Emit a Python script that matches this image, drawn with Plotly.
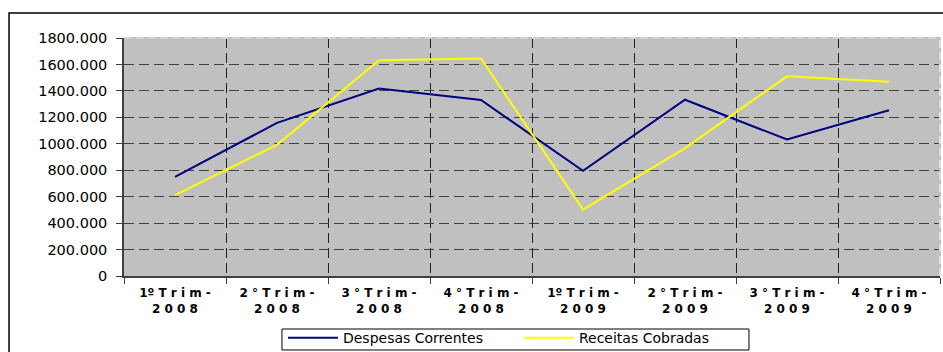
import plotly.graph_objects as go

# Quarterly categories
quarters = [
    "1º T r i m -<br>2 0 0 8",
    "2 ° T r i m -<br>2 0 0 8",
    "3 ° T r i m -<br>2 0 0 8",
    "4 ° T r i m -<br>2 0 0 8",
    "1º T r i m -<br>2 0 0 9",
    "2 ° T r i m -<br>2 0 0 9",
    "3 ° T r i m -<br>2 0 0 9",
    "4 ° T r i m -<br>2 0 0 9",
]

despesas_correntes = [750, 1158, 1418, 1331, 795, 1333, 1032, 1254]
receitas_cobradas = [612, 992, 1632, 1645, 502, 967, 1510, 1469]

y_tick_vals = [0, 200, 400, 600, 800, 1000, 1200, 1400, 1600, 1800]
y_tick_text = ["0", "200.000", "400.000", "600.000", "800.000", "1000.000",
               "1200.000", "1400.000", "1600.000", "1800.000"]

fig = go.Figure()
fig.add_trace(go.Scatter(
    x=quarters, y=despesas_correntes, mode="lines",
    name="Despesas Correntes", line=dict(color="#000080", width=2),
))
fig.add_trace(go.Scatter(
    x=quarters, y=receitas_cobradas, mode="lines",
    name="Receitas Cobradas", line=dict(color="#FFFF00", width=2),
))

grid_dash = "10px,5px"

fig.update_layout(
    width=943, height=352,
    margin=dict(l=124, r=3, t=38, b=76, autoexpand=False),
    paper_bgcolor="white",
    plot_bgcolor="#C0C0C0",
    font=dict(family="DejaVu Sans", color="black"),
    showlegend=True,
    legend=dict(
        orientation="h",
        x=0.484, xanchor="center",
        y=-0.194, yanchor="top",
        borderwidth=0, bgcolor="rgba(0,0,0,0)",
        font=dict(family="DejaVu Sans", size=14, color="black"),
        itemwidth=50,
        entrywidth=171,
        tracegroupgap=0,
    ),
    xaxis=dict(
        type="category",
        range=[-0.5, len(quarters) - 0.5],
        automargin=False,
        tickson="boundaries",
        ticks="outside", ticklen=6, tickcolor="#404040",
        ticklabelstandoff=5,
        showline=True, linecolor="#404040", linewidth=1.5,
        showgrid=True, gridcolor="#202020", gridwidth=1, griddash=grid_dash,
        tickfont=dict(family="DejaVu Sans", size=12, color="black", weight="bold"),
        fixedrange=True,
    ),
    yaxis=dict(
        automargin=False,
        range=[0, 1800],
        tickmode="array", tickvals=y_tick_vals, ticktext=y_tick_text,
        ticks="outside", ticklen=6, tickcolor="#404040",
        ticklabelstandoff=6,
        showline=True, linecolor="#404040", linewidth=1.5,
        showgrid=True, gridcolor="#404040", gridwidth=1, griddash=grid_dash,
        zeroline=False,
        tickfont=dict(family="DejaVu Sans", size=14.5, color="black"),
        fixedrange=True,
    ),
    shapes=[
        # light edge along the top and right of the plotting area
        dict(type="line", xref="paper", yref="paper", x0=0, x1=1, y0=1, y1=1,
             line=dict(color="#C0C0C0", width=2), layer="above"),
        dict(type="line", xref="paper", yref="paper", x0=0, x1=1, y0=1, y1=1,
             line=dict(color="#D8D8D8", width=1.5, dash="8px,4px"), layer="above"),
        dict(type="line", xref="paper", yref="paper", x0=1, x1=1, y0=0, y1=1,
             line=dict(color="#C0C0C0", width=2), layer="above"),
        dict(type="line", xref="paper", yref="paper", x0=1, x1=1, y0=0, y1=1,
             line=dict(color="#E8E8E8", width=1.5, dash="8px,4px"), layer="above"),
        # chart frame
        dict(type="rect", xref="paper", yref="paper",
             x0=-0.1409, x1=1.03, y0=-0.36, y1=1.105,
             line=dict(color="black", width=1.5), fillcolor="rgba(0,0,0,0)",
             layer="below"),
        # legend frame
        dict(type="rect", xref="paper", yref="paper",
             x0=0.1936, x1=0.7659, y0=-0.3109, y1=-0.2227,
             line=dict(color="black", width=1), fillcolor="white",
             layer="below"),
    ],
)

fig.write_html("out.html")
